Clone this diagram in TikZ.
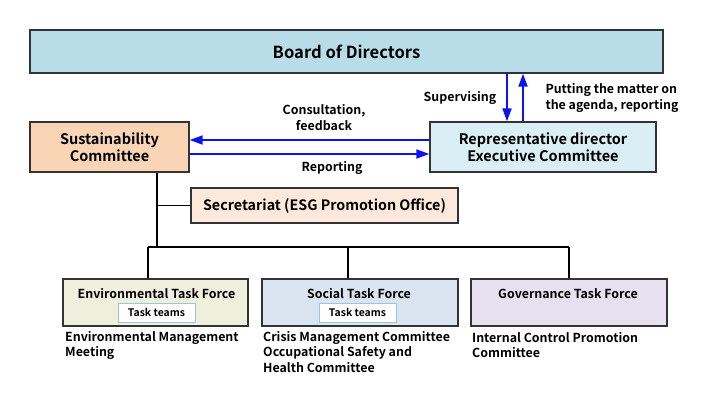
\documentclass[tikz,border=0pt]{standalone}
\usepackage{fontspec}
\setmainfont{Noto Sans CJK JP}[BoldFont={Noto Sans CJK JP Bold}]
\usetikzlibrary{arrows.meta}
\definecolor{boardc}{HTML}{B8DDE8}
\definecolor{susc}{HTML}{F9D5B6}
\definecolor{repc}{HTML}{DAEEF5}
\definecolor{secc}{HTML}{FCE9DC}
\definecolor{envc}{HTML}{EEF0DD}
\definecolor{socc}{HTML}{DBE5F1}
\definecolor{govc}{HTML}{E7E0EF}
\definecolor{edgec}{HTML}{333333}
\definecolor{ttc}{HTML}{8FCBDD}
\definecolor{arrc}{HTML}{0A14F0}
\tikzset{
  box/.style={draw=edgec, line width=1.3pt, inner sep=0pt, align=center, font=\bfseries},
  ttbox/.style={draw=ttc, fill=white, line width=1pt, inner sep=0pt, minimum width=77pt, minimum height=19pt, font=\bfseries\fontsize{10.4}{12}\selectfont},
  lbl/.style={inner sep=0pt, font=\bfseries\fontsize{12.4}{15.5}\selectfont},
  conn/.style={draw=black, line width=1.2pt},
  barr/.style={draw=arrc, line width=1.8pt, -{Triangle[length=13pt,width=9pt]}},
}
\begin{document}
\begin{tikzpicture}[x=1pt,y=-1pt]
\useasboundingbox (0,0) rectangle (706,400);
% main boxes
\node[box, fill=boardc, minimum width=633pt, minimum height=43pt, font=\bfseries\fontsize{16.6}{19}\selectfont] (board) at (346.5,51.5) {Board of Directors};
\node[box, fill=susc, minimum width=159pt, minimum height=50pt, font=\bfseries\fontsize{14.5}{16.5}\selectfont] (sus) at (109.5,147) {Sustainability\\Committee};
\node[box, fill=repc, minimum width=226pt, minimum height=50pt, font=\bfseries\fontsize{14.5}{16.5}\selectfont] (rep) at (543,147) {Representative director\\Executive Committee};
\node[box, fill=secc, minimum width=267pt, minimum height=35pt, font=\bfseries\fontsize{14.3}{16}\selectfont] (sec) at (324.5,205.5) {Secretariat (ESG Promotion Office)};
% task forces
\node[box, fill=envc, minimum width=185pt, minimum height=47pt] (env) at (155.5,302.5) {};
\node[box, fill=socc, minimum width=196pt, minimum height=47pt] (soc) at (360,302.5) {};
\node[box, fill=govc, minimum width=196pt, minimum height=47pt] (gov) at (569,302.5) {};
\node[lbl] (envt) at (156.5,294) {Environmental Task Force};
\node[lbl] (soct) at (359,294) {Social Task Force};
\node[lbl] (govt) at (568,294) {Governance Task Force};
\node[ttbox] (envtt) at (156.5,312.5) {Task teams};
\node[ttbox] (soctt) at (357.5,312.5) {Task teams};
% notes below
\node[lbl, anchor=north west, align=left] (envn) at (65,331) {Environmental Management\\Meeting};
\node[lbl, anchor=north west, align=left] (socn) at (263,331) {Crisis Management Committee\\Occupational Safety and\\Health Committee};
\node[lbl, anchor=north west, align=left] (govn) at (472,332) {Internal Control Promotion\\Committee};
% connectors
\coordinate (j1) at (157,205.5);
\coordinate (j2) at (157,247);
\coordinate (bl) at (148,247);
\coordinate (bm) at (348,247);
\coordinate (br) at (569,247);
\draw[conn] (sus.south -| j1) -- (j2);
\draw[conn] (j1) -- (sec.west);
\draw[conn] (bl) -- (br);
\draw[conn] (bl) -- (bl |- env.north);
\draw[conn] (bm) -- (bm |- soc.north);
\draw[conn] (br) -- (br |- gov.north);
% blue arrows
\draw[barr] (rep.west |- 0,140) -- (sus.east |- 0,140);
\draw[barr] (sus.east |- 0,154) -- (rep.west |- 0,154);
\draw[barr] (507,0 |- board.south) -- (507,0 |- rep.north);
\draw[barr] (523,0 |- rep.north) -- (523,0 |- board.south);
% arrow labels
\node[lbl, align=center, font=\bfseries\fontsize{12.4}{16}\selectfont] (consl) at (324,118) {Consultation,\\feedback};
\node[lbl] (repl) at (332,168) {Reporting};
\node[lbl] (supl) at (460,98) {Supervising};
\node[lbl, align=left, font=\bfseries\fontsize{12.4}{16}\selectfont] (putl) at (612,98) {Putting the matter on\\the agenda, reporting};
\end{tikzpicture}
\end{document}
